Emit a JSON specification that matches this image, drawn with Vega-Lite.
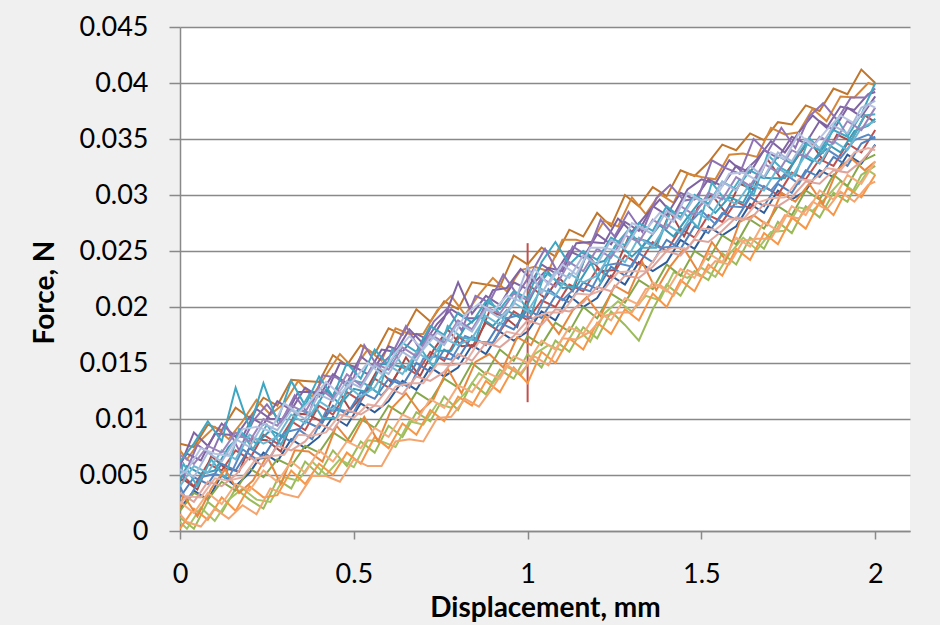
{
"$schema":"https://vega.github.io/schema/vega-lite/v6.json",
"width":730,"height":504,
"autosize":{"type":"none"},
"padding":{"left":180,"top":27,"right":30,"bottom":94},
"background":"#f0f0f0",
"config":{"view":{"fill":"#ffffff","stroke":null},"font":"Lato"},
"data":{"values":[
{"s":"J","x":0,"y":0.0020},{"s":"J","x":0.04,"y":0.0036},{"s":"J","x":0.08,"y":0.0028},{"s":"J","x":0.12,"y":0.0050},{"s":"J","x":0.16,"y":0.0040},{"s":"J","x":0.2,"y":0.0052},{"s":"J","x":0.24,"y":0.0070},{"s":"J","x":0.28,"y":0.0062},{"s":"J","x":0.32,"y":0.0082},{"s":"J","x":0.36,"y":0.0074},{"s":"J","x":0.4,"y":0.0084},{"s":"J","x":0.44,"y":0.0102},{"s":"J","x":0.48,"y":0.0094},{"s":"J","x":0.52,"y":0.0114},{"s":"J","x":0.56,"y":0.0106},{"s":"J","x":0.6,"y":0.0116},{"s":"J","x":0.64,"y":0.0134},{"s":"J","x":0.68,"y":0.0126},{"s":"J","x":0.72,"y":0.0146},{"s":"J","x":0.76,"y":0.0138},{"s":"J","x":0.8,"y":0.0146},{"s":"J","x":0.84,"y":0.0166},{"s":"J","x":0.88,"y":0.0158},{"s":"J","x":0.92,"y":0.0178},{"s":"J","x":0.96,"y":0.0170},{"s":"J","x":1,"y":0.0178},{"s":"J","x":1.04,"y":0.0196},{"s":"J","x":1.08,"y":0.0188},{"s":"J","x":1.12,"y":0.0210},{"s":"J","x":1.16,"y":0.0200},{"s":"J","x":1.2,"y":0.0208},{"s":"J","x":1.24,"y":0.0228},{"s":"J","x":1.28,"y":0.0220},{"s":"J","x":1.32,"y":0.0240},{"s":"J","x":1.36,"y":0.0232},{"s":"J","x":1.4,"y":0.0240},{"s":"J","x":1.44,"y":0.0260},{"s":"J","x":1.48,"y":0.0252},{"s":"J","x":1.52,"y":0.0272},{"s":"J","x":1.56,"y":0.0264},{"s":"J","x":1.6,"y":0.0272},{"s":"J","x":1.64,"y":0.0292},{"s":"J","x":1.68,"y":0.0284},{"s":"J","x":1.72,"y":0.0304},{"s":"J","x":1.76,"y":0.0296},{"s":"J","x":1.8,"y":0.0304},{"s":"J","x":1.84,"y":0.0322},{"s":"J","x":1.88,"y":0.0316},{"s":"J","x":1.92,"y":0.0336},{"s":"J","x":1.96,"y":0.0328},{"s":"J","x":2,"y":0.0345},
{"s":"H","x":0,"y":0.0052},{"s":"H","x":0.04,"y":0.0040},{"s":"H","x":0.08,"y":0.0060},{"s":"H","x":0.12,"y":0.0054},{"s":"H","x":0.16,"y":0.0072},{"s":"H","x":0.2,"y":0.0064},{"s":"H","x":0.24,"y":0.0086},{"s":"H","x":0.28,"y":0.0078},{"s":"H","x":0.32,"y":0.0098},{"s":"H","x":0.36,"y":0.0090},{"s":"H","x":0.4,"y":0.0112},{"s":"H","x":0.44,"y":0.0104},{"s":"H","x":0.48,"y":0.0124},{"s":"H","x":0.52,"y":0.0116},{"s":"H","x":0.56,"y":0.0136},{"s":"H","x":0.6,"y":0.0128},{"s":"H","x":0.64,"y":0.0148},{"s":"H","x":0.68,"y":0.0140},{"s":"H","x":0.72,"y":0.0160},{"s":"H","x":0.76,"y":0.0152},{"s":"H","x":0.8,"y":0.0174},{"s":"H","x":0.84,"y":0.0164},{"s":"H","x":0.88,"y":0.0186},{"s":"H","x":0.92,"y":0.0178},{"s":"H","x":0.96,"y":0.0196},{"s":"H","x":1,"y":0.0188},{"s":"H","x":1.04,"y":0.0206},{"s":"H","x":1.08,"y":0.0200},{"s":"H","x":1.12,"y":0.0220},{"s":"H","x":1.16,"y":0.0214},{"s":"H","x":1.2,"y":0.0234},{"s":"H","x":1.24,"y":0.0226},{"s":"H","x":1.28,"y":0.0246},{"s":"H","x":1.32,"y":0.0238},{"s":"H","x":1.36,"y":0.0258},{"s":"H","x":1.4,"y":0.0250},{"s":"H","x":1.44,"y":0.0270},{"s":"H","x":1.48,"y":0.0262},{"s":"H","x":1.52,"y":0.0282},{"s":"H","x":1.56,"y":0.0276},{"s":"H","x":1.6,"y":0.0294},{"s":"H","x":1.64,"y":0.0288},{"s":"H","x":1.68,"y":0.0308},{"s":"H","x":1.72,"y":0.0300},{"s":"H","x":1.76,"y":0.0320},{"s":"H","x":1.8,"y":0.0314},{"s":"H","x":1.84,"y":0.0332},{"s":"H","x":1.88,"y":0.0326},{"s":"H","x":1.92,"y":0.0346},{"s":"H","x":1.96,"y":0.0338},{"s":"H","x":2,"y":0.0358},
{"s":"H2","x":1,"y":0.0115},{"s":"H2","x":1,"y":0.0257},
{"s":"AA","x":0,"y":0.0045},{"s":"AA","x":0.01,"y":0.0046},{"s":"AA","x":0.05,"y":0.0037},{"s":"AA","x":0.09,"y":0.0067},{"s":"AA","x":0.13,"y":0.0056},{"s":"AA","x":0.17,"y":0.0053},{"s":"AA","x":0.21,"y":0.0082},{"s":"AA","x":0.25,"y":0.0081},{"s":"AA","x":0.29,"y":0.0071},{"s":"AA","x":0.33,"y":0.0105},{"s":"AA","x":0.37,"y":0.0104},{"s":"AA","x":0.41,"y":0.0097},{"s":"AA","x":0.45,"y":0.0128},{"s":"AA","x":0.49,"y":0.0108},{"s":"AA","x":0.53,"y":0.0123},{"s":"AA","x":0.57,"y":0.0145},{"s":"AA","x":0.61,"y":0.0132},{"s":"AA","x":0.65,"y":0.0155},{"s":"AA","x":0.69,"y":0.0138},{"s":"AA","x":0.73,"y":0.0162},{"s":"AA","x":0.77,"y":0.0180},{"s":"AA","x":0.81,"y":0.0165},{"s":"AA","x":0.85,"y":0.0166},{"s":"AA","x":0.89,"y":0.0196},{"s":"AA","x":0.93,"y":0.0192},{"s":"AA","x":0.97,"y":0.0182},{"s":"AA","x":1.01,"y":0.0218},{"s":"AA","x":1.05,"y":0.0208},{"s":"AA","x":1.09,"y":0.0226},{"s":"AA","x":1.13,"y":0.0214},{"s":"AA","x":1.17,"y":0.0248},{"s":"AA","x":1.21,"y":0.0232},{"s":"AA","x":1.25,"y":0.0233},{"s":"AA","x":1.29,"y":0.0262},{"s":"AA","x":1.33,"y":0.0260},{"s":"AA","x":1.37,"y":0.0255},{"s":"AA","x":1.41,"y":0.0285},{"s":"AA","x":1.45,"y":0.0263},{"s":"AA","x":1.49,"y":0.0289},{"s":"AA","x":1.53,"y":0.0300},{"s":"AA","x":1.57,"y":0.0284},{"s":"AA","x":1.61,"y":0.0310},{"s":"AA","x":1.65,"y":0.0305},{"s":"AA","x":1.69,"y":0.0332},{"s":"AA","x":1.73,"y":0.0314},{"s":"AA","x":1.77,"y":0.0331},{"s":"AA","x":1.81,"y":0.0349},{"s":"AA","x":1.85,"y":0.0331},{"s":"AA","x":1.89,"y":0.0354},{"s":"AA","x":1.93,"y":0.0348},{"s":"AA","x":1.97,"y":0.0371},{"s":"AA","x":2,"y":0.0365},
{"s":"G","x":0,"y":0.0030},{"s":"G","x":0.04,"y":0.0048},{"s":"G","x":0.08,"y":0.0042},{"s":"G","x":0.12,"y":0.0060},{"s":"G","x":0.16,"y":0.0054},{"s":"G","x":0.2,"y":0.0074},{"s":"G","x":0.24,"y":0.0066},{"s":"G","x":0.28,"y":0.0086},{"s":"G","x":0.32,"y":0.0080},{"s":"G","x":0.36,"y":0.0098},{"s":"G","x":0.4,"y":0.0092},{"s":"G","x":0.44,"y":0.0112},{"s":"G","x":0.48,"y":0.0104},{"s":"G","x":0.52,"y":0.0124},{"s":"G","x":0.56,"y":0.0118},{"s":"G","x":0.6,"y":0.0136},{"s":"G","x":0.64,"y":0.0130},{"s":"G","x":0.68,"y":0.0150},{"s":"G","x":0.72,"y":0.0142},{"s":"G","x":0.76,"y":0.0162},{"s":"G","x":0.8,"y":0.0154},{"s":"G","x":0.84,"y":0.0174},{"s":"G","x":0.88,"y":0.0166},{"s":"G","x":0.92,"y":0.0186},{"s":"G","x":0.96,"y":0.0180},{"s":"G","x":1,"y":0.0198},{"s":"G","x":1.04,"y":0.0190},{"s":"G","x":1.08,"y":0.0210},{"s":"G","x":1.12,"y":0.0204},{"s":"G","x":1.16,"y":0.0222},{"s":"G","x":1.2,"y":0.0216},{"s":"G","x":1.24,"y":0.0236},{"s":"G","x":1.28,"y":0.0228},{"s":"G","x":1.32,"y":0.0248},{"s":"G","x":1.36,"y":0.0240},{"s":"G","x":1.4,"y":0.0260},{"s":"G","x":1.44,"y":0.0252},{"s":"G","x":1.48,"y":0.0272},{"s":"G","x":1.52,"y":0.0266},{"s":"G","x":1.56,"y":0.0284},{"s":"G","x":1.6,"y":0.0278},{"s":"G","x":1.64,"y":0.0298},{"s":"G","x":1.68,"y":0.0290},{"s":"G","x":1.72,"y":0.0310},{"s":"G","x":1.76,"y":0.0302},{"s":"G","x":1.8,"y":0.0322},{"s":"G","x":1.84,"y":0.0316},{"s":"G","x":1.88,"y":0.0334},{"s":"G","x":1.92,"y":0.0326},{"s":"G","x":1.96,"y":0.0346},{"s":"G","x":2,"y":0.0352},
{"s":"W","x":0,"y":0.0040},{"s":"W","x":0.02,"y":0.0026},{"s":"W","x":0.06,"y":0.0048},{"s":"W","x":0.1,"y":0.0051},{"s":"W","x":0.14,"y":0.0047},{"s":"W","x":0.18,"y":0.0073},{"s":"W","x":0.22,"y":0.0064},{"s":"W","x":0.26,"y":0.0066},{"s":"W","x":0.3,"y":0.0088},{"s":"W","x":0.34,"y":0.0091},{"s":"W","x":0.38,"y":0.0082},{"s":"W","x":0.42,"y":0.0107},{"s":"W","x":0.46,"y":0.0108},{"s":"W","x":0.5,"y":0.0106},{"s":"W","x":0.54,"y":0.0130},{"s":"W","x":0.58,"y":0.0121},{"s":"W","x":0.62,"y":0.0135},{"s":"W","x":0.66,"y":0.0128},{"s":"W","x":0.7,"y":0.0154},{"s":"W","x":0.74,"y":0.0156},{"s":"W","x":0.78,"y":0.0153},{"s":"W","x":0.82,"y":0.0174},{"s":"W","x":0.86,"y":0.0169},{"s":"W","x":0.9,"y":0.0168},{"s":"W","x":0.94,"y":0.0190},{"s":"W","x":0.98,"y":0.0193},{"s":"W","x":1.02,"y":0.0189},{"s":"W","x":1.06,"y":0.0216},{"s":"W","x":1.1,"y":0.0206},{"s":"W","x":1.14,"y":0.0218},{"s":"W","x":1.18,"y":0.0214},{"s":"W","x":1.22,"y":0.0237},{"s":"W","x":1.26,"y":0.0239},{"s":"W","x":1.3,"y":0.0236},{"s":"W","x":1.34,"y":0.0259},{"s":"W","x":1.38,"y":0.0253},{"s":"W","x":1.42,"y":0.0254},{"s":"W","x":1.46,"y":0.0273},{"s":"W","x":1.5,"y":0.0286},{"s":"W","x":1.54,"y":0.0274},{"s":"W","x":1.58,"y":0.0290},{"s":"W","x":1.62,"y":0.0289},{"s":"W","x":1.66,"y":0.0310},{"s":"W","x":1.7,"y":0.0304},{"s":"W","x":1.74,"y":0.0319},{"s":"W","x":1.78,"y":0.0310},{"s":"W","x":1.82,"y":0.0330},{"s":"W","x":1.86,"y":0.0341},{"s":"W","x":1.9,"y":0.0333},{"s":"W","x":1.94,"y":0.0349},{"s":"W","x":1.98,"y":0.0354},{"s":"W","x":2,"y":0.0350},
{"s":"K","x":0,"y":0.0012},{"s":"K","x":0.04,"y":0.0002},{"s":"K","x":0.08,"y":0.0026},{"s":"K","x":0.12,"y":0.0016},{"s":"K","x":0.16,"y":0.0038},{"s":"K","x":0.2,"y":0.0028},{"s":"K","x":0.24,"y":0.0020},{"s":"K","x":0.28,"y":0.0046},{"s":"K","x":0.32,"y":0.0038},{"s":"K","x":0.36,"y":0.0062},{"s":"K","x":0.4,"y":0.0050},{"s":"K","x":0.44,"y":0.0072},{"s":"K","x":0.48,"y":0.0058},{"s":"K","x":0.52,"y":0.0080},{"s":"K","x":0.56,"y":0.0070},{"s":"K","x":0.6,"y":0.0094},{"s":"K","x":0.64,"y":0.0084},{"s":"K","x":0.68,"y":0.0106},{"s":"K","x":0.72,"y":0.0098},{"s":"K","x":0.76,"y":0.0120},{"s":"K","x":0.8,"y":0.0108},{"s":"K","x":0.84,"y":0.0132},{"s":"K","x":0.88,"y":0.0122},{"s":"K","x":0.92,"y":0.0144},{"s":"K","x":0.96,"y":0.0136},{"s":"K","x":1,"y":0.0158},{"s":"K","x":1.04,"y":0.0146},{"s":"K","x":1.08,"y":0.0170},{"s":"K","x":1.12,"y":0.0160},{"s":"K","x":1.16,"y":0.0182},{"s":"K","x":1.2,"y":0.0172},{"s":"K","x":1.24,"y":0.0196},{"s":"K","x":1.28,"y":0.0184},{"s":"K","x":1.32,"y":0.0170},{"s":"K","x":1.36,"y":0.0198},{"s":"K","x":1.4,"y":0.0220},{"s":"K","x":1.44,"y":0.0210},{"s":"K","x":1.48,"y":0.0232},{"s":"K","x":1.52,"y":0.0224},{"s":"K","x":1.56,"y":0.0248},{"s":"K","x":1.6,"y":0.0238},{"s":"K","x":1.64,"y":0.0262},{"s":"K","x":1.68,"y":0.0252},{"s":"K","x":1.72,"y":0.0276},{"s":"K","x":1.76,"y":0.0266},{"s":"K","x":1.8,"y":0.0290},{"s":"K","x":1.84,"y":0.0280},{"s":"K","x":1.88,"y":0.0302},{"s":"K","x":1.92,"y":0.0294},{"s":"K","x":1.96,"y":0.0318},{"s":"K","x":2,"y":0.0326},
{"s":"U","x":0,"y":0.0008},{"s":"U","x":0.02,"y":0.0002},{"s":"U","x":0.06,"y":0.0021},{"s":"U","x":0.1,"y":0.0009},{"s":"U","x":0.14,"y":0.0028},{"s":"U","x":0.18,"y":0.0038},{"s":"U","x":0.22,"y":0.0028},{"s":"U","x":0.26,"y":0.0026},{"s":"U","x":0.3,"y":0.0048},{"s":"U","x":0.34,"y":0.0045},{"s":"U","x":0.38,"y":0.0062},{"s":"U","x":0.42,"y":0.0050},{"s":"U","x":0.46,"y":0.0064},{"s":"U","x":0.5,"y":0.0057},{"s":"U","x":0.54,"y":0.0081},{"s":"U","x":0.58,"y":0.0080},{"s":"U","x":0.62,"y":0.0075},{"s":"U","x":0.66,"y":0.0098},{"s":"U","x":0.7,"y":0.0095},{"s":"U","x":0.74,"y":0.0114},{"s":"U","x":0.78,"y":0.0110},{"s":"U","x":0.82,"y":0.0123},{"s":"U","x":0.86,"y":0.0141},{"s":"U","x":0.9,"y":0.0132},{"s":"U","x":0.94,"y":0.0147},{"s":"U","x":0.98,"y":0.0139},{"s":"U","x":1.02,"y":0.0158},{"s":"U","x":1.06,"y":0.0166},{"s":"U","x":1.1,"y":0.0161},{"s":"U","x":1.14,"y":0.0182},{"s":"U","x":1.18,"y":0.0169},{"s":"U","x":1.22,"y":0.0194},{"s":"U","x":1.26,"y":0.0205},{"s":"U","x":1.3,"y":0.0196},{"s":"U","x":1.34,"y":0.0210},{"s":"U","x":1.38,"y":0.0206},{"s":"U","x":1.42,"y":0.0231},{"s":"U","x":1.46,"y":0.0226},{"s":"U","x":1.5,"y":0.0235},{"s":"U","x":1.54,"y":0.0227},{"s":"U","x":1.58,"y":0.0247},{"s":"U","x":1.62,"y":0.0262},{"s":"U","x":1.66,"y":0.0251},{"s":"U","x":1.7,"y":0.0267},{"s":"U","x":1.74,"y":0.0268},{"s":"U","x":1.78,"y":0.0289},{"s":"U","x":1.82,"y":0.0286},{"s":"U","x":1.86,"y":0.0298},{"s":"U","x":1.9,"y":0.0312},{"s":"U","x":1.94,"y":0.0303},{"s":"U","x":1.98,"y":0.0322},{"s":"U","x":2,"y":0.0318},
{"s":"L","x":0,"y":0.0018},{"s":"L","x":0.04,"y":0.0034},{"s":"L","x":0.08,"y":0.0028},{"s":"L","x":0.12,"y":0.0044},{"s":"L","x":0.16,"y":0.0036},{"s":"L","x":0.2,"y":0.0056},{"s":"L","x":0.24,"y":0.0048},{"s":"L","x":0.28,"y":0.0064},{"s":"L","x":0.32,"y":0.0058},{"s":"L","x":0.36,"y":0.0076},{"s":"L","x":0.4,"y":0.0070},{"s":"L","x":0.44,"y":0.0088},{"s":"L","x":0.48,"y":0.0080},{"s":"L","x":0.52,"y":0.0100},{"s":"L","x":0.56,"y":0.0092},{"s":"L","x":0.6,"y":0.0112},{"s":"L","x":0.64,"y":0.0104},{"s":"L","x":0.68,"y":0.0124},{"s":"L","x":0.72,"y":0.0116},{"s":"L","x":0.76,"y":0.0136},{"s":"L","x":0.8,"y":0.0128},{"s":"L","x":0.84,"y":0.0150},{"s":"L","x":0.88,"y":0.0140},{"s":"L","x":0.92,"y":0.0162},{"s":"L","x":0.96,"y":0.0152},{"s":"L","x":1,"y":0.0174},{"s":"L","x":1.04,"y":0.0166},{"s":"L","x":1.08,"y":0.0186},{"s":"L","x":1.12,"y":0.0178},{"s":"L","x":1.16,"y":0.0200},{"s":"L","x":1.2,"y":0.0190},{"s":"L","x":1.24,"y":0.0212},{"s":"L","x":1.28,"y":0.0204},{"s":"L","x":1.32,"y":0.0224},{"s":"L","x":1.36,"y":0.0216},{"s":"L","x":1.4,"y":0.0238},{"s":"L","x":1.44,"y":0.0228},{"s":"L","x":1.48,"y":0.0250},{"s":"L","x":1.52,"y":0.0242},{"s":"L","x":1.56,"y":0.0264},{"s":"L","x":1.6,"y":0.0256},{"s":"L","x":1.64,"y":0.0278},{"s":"L","x":1.68,"y":0.0270},{"s":"L","x":1.72,"y":0.0290},{"s":"L","x":1.76,"y":0.0282},{"s":"L","x":1.8,"y":0.0304},{"s":"L","x":1.84,"y":0.0296},{"s":"L","x":1.88,"y":0.0318},{"s":"L","x":1.92,"y":0.0308},{"s":"L","x":1.96,"y":0.0330},{"s":"L","x":2,"y":0.0336},
{"s":"A","x":0,"y":0.0078},{"s":"A","x":0.04,"y":0.0075},{"s":"A","x":0.08,"y":0.0095},{"s":"A","x":0.12,"y":0.0090},{"s":"A","x":0.16,"y":0.0110},{"s":"A","x":0.2,"y":0.0101},{"s":"A","x":0.24,"y":0.0119},{"s":"A","x":0.28,"y":0.0112},{"s":"A","x":0.32,"y":0.0135},{"s":"A","x":0.36,"y":0.0134},{"s":"A","x":0.4,"y":0.0133},{"s":"A","x":0.44,"y":0.0157},{"s":"A","x":0.48,"y":0.0148},{"s":"A","x":0.52,"y":0.0166},{"s":"A","x":0.56,"y":0.0158},{"s":"A","x":0.6,"y":0.0181},{"s":"A","x":0.64,"y":0.0175},{"s":"A","x":0.68,"y":0.0198},{"s":"A","x":0.72,"y":0.0187},{"s":"A","x":0.76,"y":0.0205},{"s":"A","x":0.8,"y":0.0198},{"s":"A","x":0.84,"y":0.0222},{"s":"A","x":0.88,"y":0.0220},{"s":"A","x":0.92,"y":0.0218},{"s":"A","x":0.96,"y":0.0246},{"s":"A","x":1,"y":0.0238},{"s":"A","x":1.04,"y":0.0253},{"s":"A","x":1.08,"y":0.0245},{"s":"A","x":1.12,"y":0.0269},{"s":"A","x":1.16,"y":0.0263},{"s":"A","x":1.2,"y":0.0284},{"s":"A","x":1.24,"y":0.0272},{"s":"A","x":1.28,"y":0.0300},{"s":"A","x":1.32,"y":0.0290},{"s":"A","x":1.36,"y":0.0307},{"s":"A","x":1.4,"y":0.0299},{"s":"A","x":1.44,"y":0.0322},{"s":"A","x":1.48,"y":0.0317},{"s":"A","x":1.52,"y":0.0329},{"s":"A","x":1.56,"y":0.0345},{"s":"A","x":1.6,"y":0.0340},{"s":"A","x":1.64,"y":0.0355},{"s":"A","x":1.68,"y":0.0349},{"s":"A","x":1.72,"y":0.0365},{"s":"A","x":1.76,"y":0.0363},{"s":"A","x":1.8,"y":0.0380},{"s":"A","x":1.84,"y":0.0375},{"s":"A","x":1.88,"y":0.0395},{"s":"A","x":1.92,"y":0.0390},{"s":"A","x":1.96,"y":0.0412},{"s":"A","x":2,"y":0.0400},
{"s":"S","x":0,"y":0.0072},{"s":"S","x":0.02,"y":0.0064},{"s":"S","x":0.06,"y":0.0081},{"s":"S","x":0.1,"y":0.0093},{"s":"S","x":0.14,"y":0.0082},{"s":"S","x":0.18,"y":0.0098},{"s":"S","x":0.22,"y":0.0117},{"s":"S","x":0.26,"y":0.0104},{"s":"S","x":0.3,"y":0.0114},{"s":"S","x":0.34,"y":0.0134},{"s":"S","x":0.38,"y":0.0120},{"s":"S","x":0.42,"y":0.0139},{"s":"S","x":0.46,"y":0.0158},{"s":"S","x":0.5,"y":0.0145},{"s":"S","x":0.54,"y":0.0162},{"s":"S","x":0.58,"y":0.0152},{"s":"S","x":0.62,"y":0.0181},{"s":"S","x":0.66,"y":0.0176},{"s":"S","x":0.7,"y":0.0176},{"s":"S","x":0.74,"y":0.0197},{"s":"S","x":0.78,"y":0.0210},{"s":"S","x":0.82,"y":0.0193},{"s":"S","x":0.86,"y":0.0211},{"s":"S","x":0.9,"y":0.0226},{"s":"S","x":0.94,"y":0.0214},{"s":"S","x":0.98,"y":0.0233},{"s":"S","x":1.02,"y":0.0236},{"s":"S","x":1.06,"y":0.0232},{"s":"S","x":1.1,"y":0.0260},{"s":"S","x":1.14,"y":0.0260},{"s":"S","x":1.18,"y":0.0256},{"s":"S","x":1.22,"y":0.0277},{"s":"S","x":1.26,"y":0.0272},{"s":"S","x":1.3,"y":0.0298},{"s":"S","x":1.34,"y":0.0283},{"s":"S","x":1.38,"y":0.0301},{"s":"S","x":1.42,"y":0.0293},{"s":"S","x":1.46,"y":0.0319},{"s":"S","x":1.5,"y":0.0316},{"s":"S","x":1.54,"y":0.0314},{"s":"S","x":1.58,"y":0.0336},{"s":"S","x":1.62,"y":0.0337},{"s":"S","x":1.66,"y":0.0334},{"s":"S","x":1.7,"y":0.0360},{"s":"S","x":1.74,"y":0.0354},{"s":"S","x":1.78,"y":0.0356},{"s":"S","x":1.82,"y":0.0377},{"s":"S","x":1.86,"y":0.0366},{"s":"S","x":1.9,"y":0.0388},{"s":"S","x":1.94,"y":0.0387},{"s":"S","x":1.98,"y":0.0400},{"s":"S","x":2,"y":0.0398},
{"s":"C","x":0,"y":0.0058},{"s":"C","x":0.04,"y":0.0088},{"s":"C","x":0.08,"y":0.0076},{"s":"C","x":0.12,"y":0.0096},{"s":"C","x":0.16,"y":0.0084},{"s":"C","x":0.2,"y":0.0102},{"s":"C","x":0.24,"y":0.0095},{"s":"C","x":0.28,"y":0.0116},{"s":"C","x":0.32,"y":0.0108},{"s":"C","x":0.36,"y":0.0128},{"s":"C","x":0.4,"y":0.0120},{"s":"C","x":0.44,"y":0.0140},{"s":"C","x":0.48,"y":0.0132},{"s":"C","x":0.52,"y":0.0156},{"s":"C","x":0.56,"y":0.0146},{"s":"C","x":0.6,"y":0.0165},{"s":"C","x":0.64,"y":0.0160},{"s":"C","x":0.68,"y":0.0176},{"s":"C","x":0.72,"y":0.0170},{"s":"C","x":0.76,"y":0.0190},{"s":"C","x":0.8,"y":0.0222},{"s":"C","x":0.84,"y":0.0194},{"s":"C","x":0.88,"y":0.0210},{"s":"C","x":0.92,"y":0.0202},{"s":"C","x":0.96,"y":0.0222},{"s":"C","x":1,"y":0.0216},{"s":"C","x":1.04,"y":0.0238},{"s":"C","x":1.08,"y":0.0230},{"s":"C","x":1.12,"y":0.0250},{"s":"C","x":1.16,"y":0.0244},{"s":"C","x":1.2,"y":0.0265},{"s":"C","x":1.24,"y":0.0256},{"s":"C","x":1.28,"y":0.0276},{"s":"C","x":1.32,"y":0.0268},{"s":"C","x":1.36,"y":0.0290},{"s":"C","x":1.4,"y":0.0282},{"s":"C","x":1.44,"y":0.0302},{"s":"C","x":1.48,"y":0.0296},{"s":"C","x":1.52,"y":0.0314},{"s":"C","x":1.56,"y":0.0308},{"s":"C","x":1.6,"y":0.0326},{"s":"C","x":1.64,"y":0.0320},{"s":"C","x":1.68,"y":0.0340},{"s":"C","x":1.72,"y":0.0333},{"s":"C","x":1.76,"y":0.0352},{"s":"C","x":1.8,"y":0.0346},{"s":"C","x":1.84,"y":0.0366},{"s":"C","x":1.88,"y":0.0358},{"s":"C","x":1.92,"y":0.0378},{"s":"C","x":1.96,"y":0.0370},{"s":"C","x":2,"y":0.0388},
{"s":"P","x":0,"y":0.0060},{"s":"P","x":0.02,"y":0.0069},{"s":"P","x":0.06,"y":0.0063},{"s":"P","x":0.1,"y":0.0087},{"s":"P","x":0.14,"y":0.0086},{"s":"P","x":0.18,"y":0.0084},{"s":"P","x":0.22,"y":0.0109},{"s":"P","x":0.26,"y":0.0100},{"s":"P","x":0.3,"y":0.0100},{"s":"P","x":0.34,"y":0.0124},{"s":"P","x":0.38,"y":0.0124},{"s":"P","x":0.42,"y":0.0123},{"s":"P","x":0.46,"y":0.0150},{"s":"P","x":0.5,"y":0.0147},{"s":"P","x":0.54,"y":0.0140},{"s":"P","x":0.58,"y":0.0162},{"s":"P","x":0.62,"y":0.0160},{"s":"P","x":0.66,"y":0.0180},{"s":"P","x":0.7,"y":0.0167},{"s":"P","x":0.74,"y":0.0185},{"s":"P","x":0.78,"y":0.0198},{"s":"P","x":0.82,"y":0.0190},{"s":"P","x":0.86,"y":0.0190},{"s":"P","x":0.9,"y":0.0215},{"s":"P","x":0.94,"y":0.0217},{"s":"P","x":0.98,"y":0.0234},{"s":"P","x":1.02,"y":0.0222},{"s":"P","x":1.06,"y":0.0235},{"s":"P","x":1.1,"y":0.0232},{"s":"P","x":1.14,"y":0.0257},{"s":"P","x":1.18,"y":0.0258},{"s":"P","x":1.22,"y":0.0257},{"s":"P","x":1.26,"y":0.0279},{"s":"P","x":1.3,"y":0.0267},{"s":"P","x":1.34,"y":0.0282},{"s":"P","x":1.38,"y":0.0296},{"s":"P","x":1.42,"y":0.0282},{"s":"P","x":1.46,"y":0.0305},{"s":"P","x":1.5,"y":0.0314},{"s":"P","x":1.54,"y":0.0310},{"s":"P","x":1.58,"y":0.0331},{"s":"P","x":1.62,"y":0.0320},{"s":"P","x":1.66,"y":0.0332},{"s":"P","x":1.7,"y":0.0348},{"s":"P","x":1.74,"y":0.0338},{"s":"P","x":1.78,"y":0.0356},{"s":"P","x":1.82,"y":0.0371},{"s":"P","x":1.86,"y":0.0360},{"s":"P","x":1.9,"y":0.0379},{"s":"P","x":1.94,"y":0.0376},{"s":"P","x":1.98,"y":0.0390},{"s":"P","x":2,"y":0.0392},
{"s":"Y","x":0,"y":0.0064},{"s":"Y","x":0.01,"y":0.0048},{"s":"Y","x":0.05,"y":0.0077},{"s":"Y","x":0.09,"y":0.0068},{"s":"Y","x":0.13,"y":0.0096},{"s":"Y","x":0.17,"y":0.0072},{"s":"Y","x":0.21,"y":0.0098},{"s":"Y","x":0.25,"y":0.0113},{"s":"Y","x":0.29,"y":0.0097},{"s":"Y","x":0.33,"y":0.0121},{"s":"Y","x":0.37,"y":0.0104},{"s":"Y","x":0.41,"y":0.0139},{"s":"Y","x":0.45,"y":0.0137},{"s":"Y","x":0.49,"y":0.0127},{"s":"Y","x":0.53,"y":0.0166},{"s":"Y","x":0.57,"y":0.0146},{"s":"Y","x":0.61,"y":0.0158},{"s":"Y","x":0.65,"y":0.0183},{"s":"Y","x":0.69,"y":0.0162},{"s":"Y","x":0.73,"y":0.0187},{"s":"Y","x":0.77,"y":0.0199},{"s":"Y","x":0.81,"y":0.0179},{"s":"Y","x":0.85,"y":0.0210},{"s":"Y","x":0.89,"y":0.0204},{"s":"Y","x":0.93,"y":0.0229},{"s":"Y","x":0.97,"y":0.0211},{"s":"Y","x":1.01,"y":0.0230},{"s":"Y","x":1.05,"y":0.0252},{"s":"Y","x":1.09,"y":0.0229},{"s":"Y","x":1.13,"y":0.0254},{"s":"Y","x":1.17,"y":0.0246},{"s":"Y","x":1.21,"y":0.0278},{"s":"Y","x":1.25,"y":0.0263},{"s":"Y","x":1.29,"y":0.0285},{"s":"Y","x":1.33,"y":0.0267},{"s":"Y","x":1.37,"y":0.0297},{"s":"Y","x":1.41,"y":0.0309},{"s":"Y","x":1.45,"y":0.0295},{"s":"Y","x":1.49,"y":0.0297},{"s":"Y","x":1.53,"y":0.0331},{"s":"Y","x":1.57,"y":0.0324},{"s":"Y","x":1.61,"y":0.0319},{"s":"Y","x":1.65,"y":0.0350},{"s":"Y","x":1.69,"y":0.0338},{"s":"Y","x":1.73,"y":0.0360},{"s":"Y","x":1.77,"y":0.0342},{"s":"Y","x":1.81,"y":0.0370},{"s":"Y","x":1.85,"y":0.0382},{"s":"Y","x":1.89,"y":0.0367},{"s":"Y","x":1.93,"y":0.0387},{"s":"Y","x":1.97,"y":0.0387},{"s":"Y","x":2,"y":0.0395},
{"s":"B","x":0,"y":0.0062},{"s":"B","x":0.04,"y":0.0078},{"s":"B","x":0.08,"y":0.0098},{"s":"B","x":0.12,"y":0.0080},{"s":"B","x":0.16,"y":0.0128},{"s":"B","x":0.2,"y":0.0092},{"s":"B","x":0.24,"y":0.0132},{"s":"B","x":0.28,"y":0.0098},{"s":"B","x":0.32,"y":0.0134},{"s":"B","x":0.36,"y":0.0112},{"s":"B","x":0.4,"y":0.0138},{"s":"B","x":0.44,"y":0.0120},{"s":"B","x":0.48,"y":0.0150},{"s":"B","x":0.52,"y":0.0136},{"s":"B","x":0.56,"y":0.0162},{"s":"B","x":0.6,"y":0.0148},{"s":"B","x":0.64,"y":0.0168},{"s":"B","x":0.68,"y":0.0160},{"s":"B","x":0.72,"y":0.0183},{"s":"B","x":0.76,"y":0.0175},{"s":"B","x":0.8,"y":0.0195},{"s":"B","x":0.84,"y":0.0186},{"s":"B","x":0.88,"y":0.0205},{"s":"B","x":0.92,"y":0.0198},{"s":"B","x":0.96,"y":0.0214},{"s":"B","x":1,"y":0.0208},{"s":"B","x":1.04,"y":0.0240},{"s":"B","x":1.08,"y":0.0258},{"s":"B","x":1.12,"y":0.0238},{"s":"B","x":1.16,"y":0.0250},{"s":"B","x":1.2,"y":0.0242},{"s":"B","x":1.24,"y":0.0262},{"s":"B","x":1.28,"y":0.0255},{"s":"B","x":1.32,"y":0.0275},{"s":"B","x":1.36,"y":0.0268},{"s":"B","x":1.4,"y":0.0290},{"s":"B","x":1.44,"y":0.0280},{"s":"B","x":1.48,"y":0.0300},{"s":"B","x":1.52,"y":0.0292},{"s":"B","x":1.56,"y":0.0312},{"s":"B","x":1.6,"y":0.0305},{"s":"B","x":1.64,"y":0.0322},{"s":"B","x":1.68,"y":0.0315},{"s":"B","x":1.72,"y":0.0335},{"s":"B","x":1.76,"y":0.0328},{"s":"B","x":1.8,"y":0.0346},{"s":"B","x":1.84,"y":0.0340},{"s":"B","x":1.88,"y":0.0358},{"s":"B","x":1.92,"y":0.0352},{"s":"B","x":1.96,"y":0.0372},{"s":"B","x":2,"y":0.0400},
{"s":"R","x":0,"y":0.0045},{"s":"R","x":0.02,"y":0.0058},{"s":"R","x":0.06,"y":0.0051},{"s":"R","x":0.1,"y":0.0054},{"s":"R","x":0.14,"y":0.0075},{"s":"R","x":0.18,"y":0.0087},{"s":"R","x":0.22,"y":0.0078},{"s":"R","x":0.26,"y":0.0090},{"s":"R","x":0.3,"y":0.0084},{"s":"R","x":0.34,"y":0.0109},{"s":"R","x":0.38,"y":0.0104},{"s":"R","x":0.42,"y":0.0126},{"s":"R","x":0.46,"y":0.0113},{"s":"R","x":0.5,"y":0.0127},{"s":"R","x":0.54,"y":0.0124},{"s":"R","x":0.58,"y":0.0149},{"s":"R","x":0.62,"y":0.0148},{"s":"R","x":0.66,"y":0.0144},{"s":"R","x":0.7,"y":0.0172},{"s":"R","x":0.74,"y":0.0161},{"s":"R","x":0.78,"y":0.0161},{"s":"R","x":0.82,"y":0.0182},{"s":"R","x":0.86,"y":0.0192},{"s":"R","x":0.9,"y":0.0183},{"s":"R","x":0.94,"y":0.0197},{"s":"R","x":0.98,"y":0.0190},{"s":"R","x":1.02,"y":0.0215},{"s":"R","x":1.06,"y":0.0231},{"s":"R","x":1.1,"y":0.0217},{"s":"R","x":1.14,"y":0.0218},{"s":"R","x":1.18,"y":0.0238},{"s":"R","x":1.22,"y":0.0241},{"s":"R","x":1.26,"y":0.0257},{"s":"R","x":1.3,"y":0.0245},{"s":"R","x":1.34,"y":0.0257},{"s":"R","x":1.38,"y":0.0273},{"s":"R","x":1.42,"y":0.0263},{"s":"R","x":1.46,"y":0.0280},{"s":"R","x":1.5,"y":0.0296},{"s":"R","x":1.54,"y":0.0284},{"s":"R","x":1.58,"y":0.0298},{"s":"R","x":1.62,"y":0.0293},{"s":"R","x":1.66,"y":0.0316},{"s":"R","x":1.7,"y":0.0315},{"s":"R","x":1.74,"y":0.0315},{"s":"R","x":1.78,"y":0.0337},{"s":"R","x":1.82,"y":0.0330},{"s":"R","x":1.86,"y":0.0346},{"s":"R","x":1.9,"y":0.0338},{"s":"R","x":1.94,"y":0.0357},{"s":"R","x":1.98,"y":0.0362},{"s":"R","x":2,"y":0.0368},
{"s":"X","x":0,"y":0.0052},{"s":"X","x":0.01,"y":0.0060},{"s":"X","x":0.05,"y":0.0040},{"s":"X","x":0.09,"y":0.0064},{"s":"X","x":0.13,"y":0.0047},{"s":"X","x":0.17,"y":0.0091},{"s":"X","x":0.21,"y":0.0073},{"s":"X","x":0.25,"y":0.0095},{"s":"X","x":0.29,"y":0.0077},{"s":"X","x":0.33,"y":0.0100},{"s":"X","x":0.37,"y":0.0121},{"s":"X","x":0.41,"y":0.0101},{"s":"X","x":0.45,"y":0.0101},{"s":"X","x":0.49,"y":0.0135},{"s":"X","x":0.53,"y":0.0132},{"s":"X","x":0.57,"y":0.0123},{"s":"X","x":0.61,"y":0.0162},{"s":"X","x":0.65,"y":0.0143},{"s":"X","x":0.69,"y":0.0164},{"s":"X","x":0.73,"y":0.0146},{"s":"X","x":0.77,"y":0.0183},{"s":"X","x":0.81,"y":0.0173},{"s":"X","x":0.85,"y":0.0170},{"s":"X","x":0.89,"y":0.0207},{"s":"X","x":0.93,"y":0.0189},{"s":"X","x":0.97,"y":0.0211},{"s":"X","x":1.01,"y":0.0193},{"s":"X","x":1.05,"y":0.0231},{"s":"X","x":1.09,"y":0.0222},{"s":"X","x":1.13,"y":0.0217},{"s":"X","x":1.17,"y":0.0247},{"s":"X","x":1.21,"y":0.0222},{"s":"X","x":1.25,"y":0.0254},{"s":"X","x":1.29,"y":0.0269},{"s":"X","x":1.33,"y":0.0253},{"s":"X","x":1.37,"y":0.0253},{"s":"X","x":1.41,"y":0.0284},{"s":"X","x":1.45,"y":0.0284},{"s":"X","x":1.49,"y":0.0271},{"s":"X","x":1.53,"y":0.0311},{"s":"X","x":1.57,"y":0.0295},{"s":"X","x":1.61,"y":0.0314},{"s":"X","x":1.65,"y":0.0300},{"s":"X","x":1.69,"y":0.0336},{"s":"X","x":1.73,"y":0.0324},{"s":"X","x":1.77,"y":0.0317},{"s":"X","x":1.81,"y":0.0351},{"s":"X","x":1.85,"y":0.0338},{"s":"X","x":1.89,"y":0.0368},{"s":"X","x":1.93,"y":0.0348},{"s":"X","x":1.97,"y":0.0371},{"s":"X","x":2,"y":0.0372},
{"s":"F","x":0,"y":0.0040},{"s":"F","x":0.04,"y":0.0058},{"s":"F","x":0.08,"y":0.0052},{"s":"F","x":0.12,"y":0.0072},{"s":"F","x":0.16,"y":0.0064},{"s":"F","x":0.2,"y":0.0086},{"s":"F","x":0.24,"y":0.0078},{"s":"F","x":0.28,"y":0.0084},{"s":"F","x":0.32,"y":0.0104},{"s":"F","x":0.36,"y":0.0096},{"s":"F","x":0.4,"y":0.0116},{"s":"F","x":0.44,"y":0.0108},{"s":"F","x":0.48,"y":0.0130},{"s":"F","x":0.52,"y":0.0120},{"s":"F","x":0.56,"y":0.0128},{"s":"F","x":0.6,"y":0.0148},{"s":"F","x":0.64,"y":0.0140},{"s":"F","x":0.68,"y":0.0160},{"s":"F","x":0.72,"y":0.0152},{"s":"F","x":0.76,"y":0.0172},{"s":"F","x":0.8,"y":0.0166},{"s":"F","x":0.84,"y":0.0172},{"s":"F","x":0.88,"y":0.0192},{"s":"F","x":0.92,"y":0.0184},{"s":"F","x":0.96,"y":0.0204},{"s":"F","x":1,"y":0.0196},{"s":"F","x":1.04,"y":0.0216},{"s":"F","x":1.08,"y":0.0210},{"s":"F","x":1.12,"y":0.0230},{"s":"F","x":1.16,"y":0.0222},{"s":"F","x":1.2,"y":0.0228},{"s":"F","x":1.24,"y":0.0248},{"s":"F","x":1.28,"y":0.0240},{"s":"F","x":1.32,"y":0.0262},{"s":"F","x":1.36,"y":0.0254},{"s":"F","x":1.4,"y":0.0274},{"s":"F","x":1.44,"y":0.0266},{"s":"F","x":1.48,"y":0.0286},{"s":"F","x":1.52,"y":0.0278},{"s":"F","x":1.56,"y":0.0298},{"s":"F","x":1.6,"y":0.0292},{"s":"F","x":1.64,"y":0.0310},{"s":"F","x":1.68,"y":0.0304},{"s":"F","x":1.72,"y":0.0324},{"s":"F","x":1.76,"y":0.0316},{"s":"F","x":1.8,"y":0.0336},{"s":"F","x":1.84,"y":0.0328},{"s":"F","x":1.88,"y":0.0348},{"s":"F","x":1.92,"y":0.0340},{"s":"F","x":1.96,"y":0.0360},{"s":"F","x":2,"y":0.0366},
{"s":"E","x":0,"y":0.0068},{"s":"E","x":0.04,"y":0.0060},{"s":"E","x":0.08,"y":0.0076},{"s":"E","x":0.12,"y":0.0070},{"s":"E","x":0.16,"y":0.0088},{"s":"E","x":0.2,"y":0.0080},{"s":"E","x":0.24,"y":0.0100},{"s":"E","x":0.28,"y":0.0094},{"s":"E","x":0.32,"y":0.0112},{"s":"E","x":0.36,"y":0.0106},{"s":"E","x":0.4,"y":0.0128},{"s":"E","x":0.44,"y":0.0118},{"s":"E","x":0.48,"y":0.0140},{"s":"E","x":0.52,"y":0.0130},{"s":"E","x":0.56,"y":0.0150},{"s":"E","x":0.6,"y":0.0144},{"s":"E","x":0.64,"y":0.0164},{"s":"E","x":0.68,"y":0.0156},{"s":"E","x":0.72,"y":0.0176},{"s":"E","x":0.76,"y":0.0168},{"s":"E","x":0.8,"y":0.0188},{"s":"E","x":0.84,"y":0.0180},{"s":"E","x":0.88,"y":0.0200},{"s":"E","x":0.92,"y":0.0194},{"s":"E","x":0.96,"y":0.0212},{"s":"E","x":1,"y":0.0206},{"s":"E","x":1.04,"y":0.0226},{"s":"E","x":1.08,"y":0.0218},{"s":"E","x":1.12,"y":0.0240},{"s":"E","x":1.16,"y":0.0232},{"s":"E","x":1.2,"y":0.0252},{"s":"E","x":1.24,"y":0.0244},{"s":"E","x":1.28,"y":0.0264},{"s":"E","x":1.32,"y":0.0258},{"s":"E","x":1.36,"y":0.0278},{"s":"E","x":1.4,"y":0.0270},{"s":"E","x":1.44,"y":0.0290},{"s":"E","x":1.48,"y":0.0282},{"s":"E","x":1.52,"y":0.0302},{"s":"E","x":1.56,"y":0.0296},{"s":"E","x":1.6,"y":0.0316},{"s":"E","x":1.64,"y":0.0308},{"s":"E","x":1.68,"y":0.0328},{"s":"E","x":1.72,"y":0.0320},{"s":"E","x":1.76,"y":0.0340},{"s":"E","x":1.8,"y":0.0334},{"s":"E","x":1.84,"y":0.0352},{"s":"E","x":1.88,"y":0.0346},{"s":"E","x":1.92,"y":0.0366},{"s":"E","x":1.96,"y":0.0358},{"s":"E","x":2,"y":0.0378},
{"s":"M","x":0,"y":0.0002},{"s":"M","x":0.04,"y":0.0020},{"s":"M","x":0.08,"y":0.0010},{"s":"M","x":0.12,"y":0.0030},{"s":"M","x":0.16,"y":0.0018},{"s":"M","x":0.2,"y":0.0040},{"s":"M","x":0.24,"y":0.0030},{"s":"M","x":0.28,"y":0.0032},{"s":"M","x":0.32,"y":0.0054},{"s":"M","x":0.36,"y":0.0042},{"s":"M","x":0.4,"y":0.0060},{"s":"M","x":0.44,"y":0.0050},{"s":"M","x":0.48,"y":0.0070},{"s":"M","x":0.52,"y":0.0060},{"s":"M","x":0.56,"y":0.0084},{"s":"M","x":0.6,"y":0.0074},{"s":"M","x":0.64,"y":0.0096},{"s":"M","x":0.68,"y":0.0086},{"s":"M","x":0.72,"y":0.0108},{"s":"M","x":0.76,"y":0.0098},{"s":"M","x":0.8,"y":0.0120},{"s":"M","x":0.84,"y":0.0112},{"s":"M","x":0.88,"y":0.0134},{"s":"M","x":0.92,"y":0.0124},{"s":"M","x":0.96,"y":0.0146},{"s":"M","x":1,"y":0.0132},{"s":"M","x":1.04,"y":0.0160},{"s":"M","x":1.08,"y":0.0150},{"s":"M","x":1.12,"y":0.0172},{"s":"M","x":1.16,"y":0.0162},{"s":"M","x":1.2,"y":0.0186},{"s":"M","x":1.24,"y":0.0176},{"s":"M","x":1.28,"y":0.0198},{"s":"M","x":1.32,"y":0.0188},{"s":"M","x":1.36,"y":0.0212},{"s":"M","x":1.4,"y":0.0200},{"s":"M","x":1.44,"y":0.0224},{"s":"M","x":1.48,"y":0.0214},{"s":"M","x":1.52,"y":0.0238},{"s":"M","x":1.56,"y":0.0228},{"s":"M","x":1.6,"y":0.0252},{"s":"M","x":1.64,"y":0.0242},{"s":"M","x":1.68,"y":0.0266},{"s":"M","x":1.72,"y":0.0256},{"s":"M","x":1.76,"y":0.0280},{"s":"M","x":1.8,"y":0.0270},{"s":"M","x":1.84,"y":0.0294},{"s":"M","x":1.88,"y":0.0282},{"s":"M","x":1.92,"y":0.0306},{"s":"M","x":1.96,"y":0.0298},{"s":"M","x":2,"y":0.0318},
{"s":"Z","x":0,"y":0.0020},{"s":"Z","x":0.01,"y":0.0032},{"s":"Z","x":0.05,"y":0.0013},{"s":"Z","x":0.09,"y":0.0038},{"s":"Z","x":0.13,"y":0.0055},{"s":"Z","x":0.17,"y":0.0034},{"s":"Z","x":0.21,"y":0.0045},{"s":"Z","x":0.25,"y":0.0067},{"s":"Z","x":0.29,"y":0.0042},{"s":"Z","x":0.33,"y":0.0072},{"s":"Z","x":0.37,"y":0.0071},{"s":"Z","x":0.41,"y":0.0062},{"s":"Z","x":0.45,"y":0.0094},{"s":"Z","x":0.49,"y":0.0079},{"s":"Z","x":0.53,"y":0.0102},{"s":"Z","x":0.57,"y":0.0080},{"s":"Z","x":0.61,"y":0.0110},{"s":"Z","x":0.65,"y":0.0123},{"s":"Z","x":0.69,"y":0.0106},{"s":"Z","x":0.73,"y":0.0118},{"s":"Z","x":0.77,"y":0.0145},{"s":"Z","x":0.81,"y":0.0123},{"s":"Z","x":0.85,"y":0.0151},{"s":"Z","x":0.89,"y":0.0158},{"s":"Z","x":0.93,"y":0.0146},{"s":"Z","x":0.97,"y":0.0173},{"s":"Z","x":1.01,"y":0.0166},{"s":"Z","x":1.05,"y":0.0192},{"s":"Z","x":1.09,"y":0.0176},{"s":"Z","x":1.13,"y":0.0197},{"s":"Z","x":1.17,"y":0.0209},{"s":"Z","x":1.21,"y":0.0192},{"s":"Z","x":1.25,"y":0.0219},{"s":"Z","x":1.29,"y":0.0212},{"s":"Z","x":1.33,"y":0.0240},{"s":"Z","x":1.37,"y":0.0215},{"s":"Z","x":1.41,"y":0.0236},{"s":"Z","x":1.45,"y":0.0252},{"s":"Z","x":1.49,"y":0.0232},{"s":"Z","x":1.53,"y":0.0258},{"s":"Z","x":1.57,"y":0.0242},{"s":"Z","x":1.61,"y":0.0276},{"s":"Z","x":1.65,"y":0.0282},{"s":"Z","x":1.69,"y":0.0273},{"s":"Z","x":1.73,"y":0.0302},{"s":"Z","x":1.77,"y":0.0294},{"s":"Z","x":1.81,"y":0.0310},{"s":"Z","x":1.85,"y":0.0292},{"s":"Z","x":1.89,"y":0.0322},{"s":"Z","x":1.93,"y":0.0333},{"s":"Z","x":1.97,"y":0.0322},{"s":"Z","x":2,"y":0.0330},
{"s":"V","x":0,"y":0.0015},{"s":"V","x":0.02,"y":0.0008},{"s":"V","x":0.06,"y":0.0004},{"s":"V","x":0.1,"y":0.0020},{"s":"V","x":0.14,"y":0.0011},{"s":"V","x":0.18,"y":0.0023},{"s":"V","x":0.22,"y":0.0015},{"s":"V","x":0.26,"y":0.0038},{"s":"V","x":0.3,"y":0.0033},{"s":"V","x":0.34,"y":0.0030},{"s":"V","x":0.38,"y":0.0049},{"s":"V","x":0.42,"y":0.0049},{"s":"V","x":0.46,"y":0.0044},{"s":"V","x":0.5,"y":0.0064},{"s":"V","x":0.54,"y":0.0058},{"s":"V","x":0.58,"y":0.0058},{"s":"V","x":0.62,"y":0.0080},{"s":"V","x":0.66,"y":0.0082},{"s":"V","x":0.7,"y":0.0080},{"s":"V","x":0.74,"y":0.0101},{"s":"V","x":0.78,"y":0.0102},{"s":"V","x":0.82,"y":0.0118},{"s":"V","x":0.86,"y":0.0111},{"s":"V","x":0.9,"y":0.0128},{"s":"V","x":0.94,"y":0.0148},{"s":"V","x":0.98,"y":0.0141},{"s":"V","x":1.02,"y":0.0156},{"s":"V","x":1.06,"y":0.0148},{"s":"V","x":1.1,"y":0.0172},{"s":"V","x":1.14,"y":0.0171},{"s":"V","x":1.18,"y":0.0178},{"s":"V","x":1.22,"y":0.0192},{"s":"V","x":1.26,"y":0.0195},{"s":"V","x":1.3,"y":0.0195},{"s":"V","x":1.34,"y":0.0216},{"s":"V","x":1.38,"y":0.0220},{"s":"V","x":1.42,"y":0.0210},{"s":"V","x":1.46,"y":0.0233},{"s":"V","x":1.5,"y":0.0227},{"s":"V","x":1.54,"y":0.0241},{"s":"V","x":1.58,"y":0.0238},{"s":"V","x":1.62,"y":0.0259},{"s":"V","x":1.66,"y":0.0261},{"s":"V","x":1.7,"y":0.0261},{"s":"V","x":1.74,"y":0.0282},{"s":"V","x":1.78,"y":0.0279},{"s":"V","x":1.82,"y":0.0294},{"s":"V","x":1.86,"y":0.0287},{"s":"V","x":1.9,"y":0.0303},{"s":"V","x":1.94,"y":0.0294},{"s":"V","x":1.98,"y":0.0309},{"s":"V","x":2,"y":0.0312},
{"s":"N","x":0,"y":0.0026},{"s":"N","x":0.04,"y":0.0016},{"s":"N","x":0.08,"y":0.0034},{"s":"N","x":0.12,"y":0.0024},{"s":"N","x":0.16,"y":0.0042},{"s":"N","x":0.2,"y":0.0036},{"s":"N","x":0.24,"y":0.0054},{"s":"N","x":0.28,"y":0.0044},{"s":"N","x":0.32,"y":0.0062},{"s":"N","x":0.36,"y":0.0052},{"s":"N","x":0.4,"y":0.0072},{"s":"N","x":0.44,"y":0.0062},{"s":"N","x":0.48,"y":0.0080},{"s":"N","x":0.52,"y":0.0074},{"s":"N","x":0.56,"y":0.0092},{"s":"N","x":0.6,"y":0.0084},{"s":"N","x":0.64,"y":0.0104},{"s":"N","x":0.68,"y":0.0098},{"s":"N","x":0.72,"y":0.0118},{"s":"N","x":0.76,"y":0.0110},{"s":"N","x":0.8,"y":0.0130},{"s":"N","x":0.84,"y":0.0124},{"s":"N","x":0.88,"y":0.0142},{"s":"N","x":0.92,"y":0.0136},{"s":"N","x":0.96,"y":0.0156},{"s":"N","x":1,"y":0.0150},{"s":"N","x":1.04,"y":0.0170},{"s":"N","x":1.08,"y":0.0162},{"s":"N","x":1.12,"y":0.0182},{"s":"N","x":1.16,"y":0.0176},{"s":"N","x":1.2,"y":0.0196},{"s":"N","x":1.24,"y":0.0188},{"s":"N","x":1.28,"y":0.0208},{"s":"N","x":1.32,"y":0.0202},{"s":"N","x":1.36,"y":0.0222},{"s":"N","x":1.4,"y":0.0214},{"s":"N","x":1.44,"y":0.0234},{"s":"N","x":1.48,"y":0.0226},{"s":"N","x":1.52,"y":0.0248},{"s":"N","x":1.56,"y":0.0240},{"s":"N","x":1.6,"y":0.0262},{"s":"N","x":1.64,"y":0.0254},{"s":"N","x":1.68,"y":0.0276},{"s":"N","x":1.72,"y":0.0268},{"s":"N","x":1.76,"y":0.0290},{"s":"N","x":1.8,"y":0.0282},{"s":"N","x":1.84,"y":0.0304},{"s":"N","x":1.88,"y":0.0296},{"s":"N","x":1.92,"y":0.0318},{"s":"N","x":1.96,"y":0.0310},{"s":"N","x":2,"y":0.0330},
{"s":"T","x":0,"y":0.0024},{"s":"T","x":0.02,"y":0.0031},{"s":"T","x":0.06,"y":0.0030},{"s":"T","x":0.1,"y":0.0047},{"s":"T","x":0.14,"y":0.0045},{"s":"T","x":0.18,"y":0.0048},{"s":"T","x":0.22,"y":0.0065},{"s":"T","x":0.26,"y":0.0067},{"s":"T","x":0.3,"y":0.0068},{"s":"T","x":0.34,"y":0.0086},{"s":"T","x":0.38,"y":0.0085},{"s":"T","x":0.42,"y":0.0088},{"s":"T","x":0.46,"y":0.0104},{"s":"T","x":0.5,"y":0.0101},{"s":"T","x":0.54,"y":0.0113},{"s":"T","x":0.58,"y":0.0111},{"s":"T","x":0.62,"y":0.0129},{"s":"T","x":0.66,"y":0.0132},{"s":"T","x":0.7,"y":0.0132},{"s":"T","x":0.74,"y":0.0149},{"s":"T","x":0.78,"y":0.0148},{"s":"T","x":0.82,"y":0.0150},{"s":"T","x":0.86,"y":0.0169},{"s":"T","x":0.9,"y":0.0166},{"s":"T","x":0.94,"y":0.0178},{"s":"T","x":0.98,"y":0.0175},{"s":"T","x":1.02,"y":0.0191},{"s":"T","x":1.06,"y":0.0195},{"s":"T","x":1.1,"y":0.0195},{"s":"T","x":1.14,"y":0.0212},{"s":"T","x":1.18,"y":0.0211},{"s":"T","x":1.22,"y":0.0216},{"s":"T","x":1.26,"y":0.0231},{"s":"T","x":1.3,"y":0.0232},{"s":"T","x":1.34,"y":0.0232},{"s":"T","x":1.38,"y":0.0249},{"s":"T","x":1.42,"y":0.0253},{"s":"T","x":1.46,"y":0.0252},{"s":"T","x":1.5,"y":0.0270},{"s":"T","x":1.54,"y":0.0269},{"s":"T","x":1.58,"y":0.0279},{"s":"T","x":1.62,"y":0.0278},{"s":"T","x":1.66,"y":0.0293},{"s":"T","x":1.7,"y":0.0297},{"s":"T","x":1.74,"y":0.0298},{"s":"T","x":1.78,"y":0.0314},{"s":"T","x":1.82,"y":0.0313},{"s":"T","x":1.86,"y":0.0324},{"s":"T","x":1.9,"y":0.0322},{"s":"T","x":1.94,"y":0.0338},{"s":"T","x":1.98,"y":0.0342},{"s":"T","x":2,"y":0.0340},
{"s":"I","x":0,"y":0.0034},{"s":"I","x":0.04,"y":0.0026},{"s":"I","x":0.08,"y":0.0044},{"s":"I","x":0.12,"y":0.0040},{"s":"I","x":0.16,"y":0.0050},{"s":"I","x":0.2,"y":0.0066},{"s":"I","x":0.24,"y":0.0058},{"s":"I","x":0.28,"y":0.0076},{"s":"I","x":0.32,"y":0.0072},{"s":"I","x":0.36,"y":0.0080},{"s":"I","x":0.4,"y":0.0096},{"s":"I","x":0.44,"y":0.0090},{"s":"I","x":0.48,"y":0.0108},{"s":"I","x":0.52,"y":0.0104},{"s":"I","x":0.56,"y":0.0112},{"s":"I","x":0.6,"y":0.0128},{"s":"I","x":0.64,"y":0.0122},{"s":"I","x":0.68,"y":0.0138},{"s":"I","x":0.72,"y":0.0134},{"s":"I","x":0.76,"y":0.0142},{"s":"I","x":0.8,"y":0.0158},{"s":"I","x":0.84,"y":0.0152},{"s":"I","x":0.88,"y":0.0168},{"s":"I","x":0.92,"y":0.0164},{"s":"I","x":0.96,"y":0.0174},{"s":"I","x":1,"y":0.0188},{"s":"I","x":1.04,"y":0.0184},{"s":"I","x":1.08,"y":0.0198},{"s":"I","x":1.12,"y":0.0196},{"s":"I","x":1.16,"y":0.0204},{"s":"I","x":1.2,"y":0.0218},{"s":"I","x":1.24,"y":0.0214},{"s":"I","x":1.28,"y":0.0228},{"s":"I","x":1.32,"y":0.0226},{"s":"I","x":1.36,"y":0.0236},{"s":"I","x":1.4,"y":0.0250},{"s":"I","x":1.44,"y":0.0246},{"s":"I","x":1.48,"y":0.0260},{"s":"I","x":1.52,"y":0.0258},{"s":"I","x":1.56,"y":0.0268},{"s":"I","x":1.6,"y":0.0280},{"s":"I","x":1.64,"y":0.0278},{"s":"I","x":1.68,"y":0.0292},{"s":"I","x":1.72,"y":0.0290},{"s":"I","x":1.76,"y":0.0298},{"s":"I","x":1.8,"y":0.0312},{"s":"I","x":1.84,"y":0.0310},{"s":"I","x":1.88,"y":0.0322},{"s":"I","x":1.92,"y":0.0320},{"s":"I","x":1.96,"y":0.0330},{"s":"I","x":2,"y":0.0344},
{"s":"Q","x":0,"y":0.0050},{"s":"Q","x":0.02,"y":0.0054},{"s":"Q","x":0.06,"y":0.0074},{"s":"Q","x":0.1,"y":0.0069},{"s":"Q","x":0.14,"y":0.0067},{"s":"Q","x":0.18,"y":0.0091},{"s":"Q","x":0.22,"y":0.0093},{"s":"Q","x":0.26,"y":0.0089},{"s":"Q","x":0.3,"y":0.0114},{"s":"Q","x":0.34,"y":0.0105},{"s":"Q","x":0.38,"y":0.0118},{"s":"Q","x":0.42,"y":0.0133},{"s":"Q","x":0.46,"y":0.0122},{"s":"Q","x":0.5,"y":0.0135},{"s":"Q","x":0.54,"y":0.0150},{"s":"Q","x":0.58,"y":0.0140},{"s":"Q","x":0.62,"y":0.0159},{"s":"Q","x":0.66,"y":0.0174},{"s":"Q","x":0.7,"y":0.0162},{"s":"Q","x":0.74,"y":0.0177},{"s":"Q","x":0.78,"y":0.0170},{"s":"Q","x":0.82,"y":0.0193},{"s":"Q","x":0.86,"y":0.0203},{"s":"Q","x":0.9,"y":0.0196},{"s":"Q","x":0.94,"y":0.0210},{"s":"Q","x":0.98,"y":0.0205},{"s":"Q","x":1.02,"y":0.0234},{"s":"Q","x":1.06,"y":0.0220},{"s":"Q","x":1.1,"y":0.0238},{"s":"Q","x":1.14,"y":0.0229},{"s":"Q","x":1.18,"y":0.0253},{"s":"Q","x":1.22,"y":0.0253},{"s":"Q","x":1.26,"y":0.0250},{"s":"Q","x":1.3,"y":0.0275},{"s":"Q","x":1.34,"y":0.0269},{"s":"Q","x":1.38,"y":0.0284},{"s":"Q","x":1.42,"y":0.0276},{"s":"Q","x":1.46,"y":0.0302},{"s":"Q","x":1.5,"y":0.0295},{"s":"Q","x":1.54,"y":0.0297},{"s":"Q","x":1.58,"y":0.0319},{"s":"Q","x":1.62,"y":0.0320},{"s":"Q","x":1.66,"y":0.0313},{"s":"Q","x":1.7,"y":0.0338},{"s":"Q","x":1.74,"y":0.0332},{"s":"Q","x":1.78,"y":0.0355},{"s":"Q","x":1.82,"y":0.0343},{"s":"Q","x":1.86,"y":0.0358},{"s":"Q","x":1.9,"y":0.0371},{"s":"Q","x":1.94,"y":0.0364},{"s":"Q","x":1.98,"y":0.0381},{"s":"Q","x":2,"y":0.0378},
{"s":"D","x":0,"y":0.0055},{"s":"D","x":0.04,"y":0.0048},{"s":"D","x":0.08,"y":0.0070},{"s":"D","x":0.12,"y":0.0062},{"s":"D","x":0.16,"y":0.0082},{"s":"D","x":0.2,"y":0.0075},{"s":"D","x":0.24,"y":0.0096},{"s":"D","x":0.28,"y":0.0090},{"s":"D","x":0.32,"y":0.0108},{"s":"D","x":0.36,"y":0.0100},{"s":"D","x":0.4,"y":0.0122},{"s":"D","x":0.44,"y":0.0116},{"s":"D","x":0.48,"y":0.0134},{"s":"D","x":0.52,"y":0.0128},{"s":"D","x":0.56,"y":0.0148},{"s":"D","x":0.6,"y":0.0140},{"s":"D","x":0.64,"y":0.0160},{"s":"D","x":0.68,"y":0.0152},{"s":"D","x":0.72,"y":0.0174},{"s":"D","x":0.76,"y":0.0166},{"s":"D","x":0.8,"y":0.0186},{"s":"D","x":0.84,"y":0.0178},{"s":"D","x":0.88,"y":0.0198},{"s":"D","x":0.92,"y":0.0190},{"s":"D","x":0.96,"y":0.0202},{"s":"D","x":1,"y":0.0236},{"s":"D","x":1.04,"y":0.0212},{"s":"D","x":1.08,"y":0.0232},{"s":"D","x":1.12,"y":0.0226},{"s":"D","x":1.16,"y":0.0246},{"s":"D","x":1.2,"y":0.0238},{"s":"D","x":1.24,"y":0.0260},{"s":"D","x":1.28,"y":0.0252},{"s":"D","x":1.32,"y":0.0272},{"s":"D","x":1.36,"y":0.0265},{"s":"D","x":1.4,"y":0.0286},{"s":"D","x":1.44,"y":0.0278},{"s":"D","x":1.48,"y":0.0298},{"s":"D","x":1.52,"y":0.0290},{"s":"D","x":1.56,"y":0.0312},{"s":"D","x":1.6,"y":0.0304},{"s":"D","x":1.64,"y":0.0326},{"s":"D","x":1.68,"y":0.0316},{"s":"D","x":1.72,"y":0.0338},{"s":"D","x":1.76,"y":0.0330},{"s":"D","x":1.8,"y":0.0350},{"s":"D","x":1.84,"y":0.0342},{"s":"D","x":1.88,"y":0.0362},{"s":"D","x":1.92,"y":0.0355},{"s":"D","x":1.96,"y":0.0378},{"s":"D","x":2,"y":0.0384}
]},
"mark":{"type":"line","strokeWidth":2,"clip":true},
"encoding":{
"x":{"field":"x","type":"quantitative","scale":{"domain":[0,2.1],"nice":false,"zero":false},
"axis":{"title":"Displacement, mm","values":[0,0.5,1,1.5,2],"format":"~g","grid":false,"domainColor":"#898989","domainWidth":1.5,"tickColor":"#898989","tickWidth":1.5,"tickSize":8,"labelFontSize":27,"labelColor":"#000000","labelPadding":22,"labelFlush":false,"titleFontSize":28,"titleFontWeight":"bold","titleColor":"#000000","titleY":85,"titleBaseline":"alphabetic"}},
"y":{"field":"y","type":"quantitative","scale":{"domain":[0,0.045],"nice":false},
"axis":{"title":"Force, N","values":[0,0.005,0.01,0.015,0.02,0.025,0.03,0.035,0.04,0.045],"format":"~g","grid":true,"gridColor":"#898989","gridWidth":1.5,"gridOpacity":1,"domainColor":"#898989","domainWidth":1.5,"tickColor":"#898989","tickWidth":1.5,"tickSize":11,"labelFontSize":27,"labelColor":"#000000","labelPadding":21,"labelFlush":false,"titleFontSize":28,"titleFontWeight":"bold","titleColor":"#000000","titleX":-127,"titleY":265,"titleBaseline":"alphabetic","titleAngle":-90}},
"color":{"field":"s","type":"nominal","legend":null,"scale":{"domain":["J","H","H2","AA","G","W","K","U","L","A","S","C","P","Y","B","R","X","F","E","M","Z","V","N","T","I","Q","D"],"range":["#2E5C99","#C0504D","#C0504D","#A84B48","#4F81BD","#5A8AC6","#9BBB59","#A5C364","#86A84A","#C0762C","#D4873A","#8064A2","#7E62A1","#8E72B3","#3FA6C2","#3A9BB8","#4BACC6","#6CB8D4","#9B84BC","#F79646","#E8883E","#F4A46E","#F5AC7A","#E6B0A4","#DEA49C","#B7C4E2","#A7B9DB"]}}
}
}
